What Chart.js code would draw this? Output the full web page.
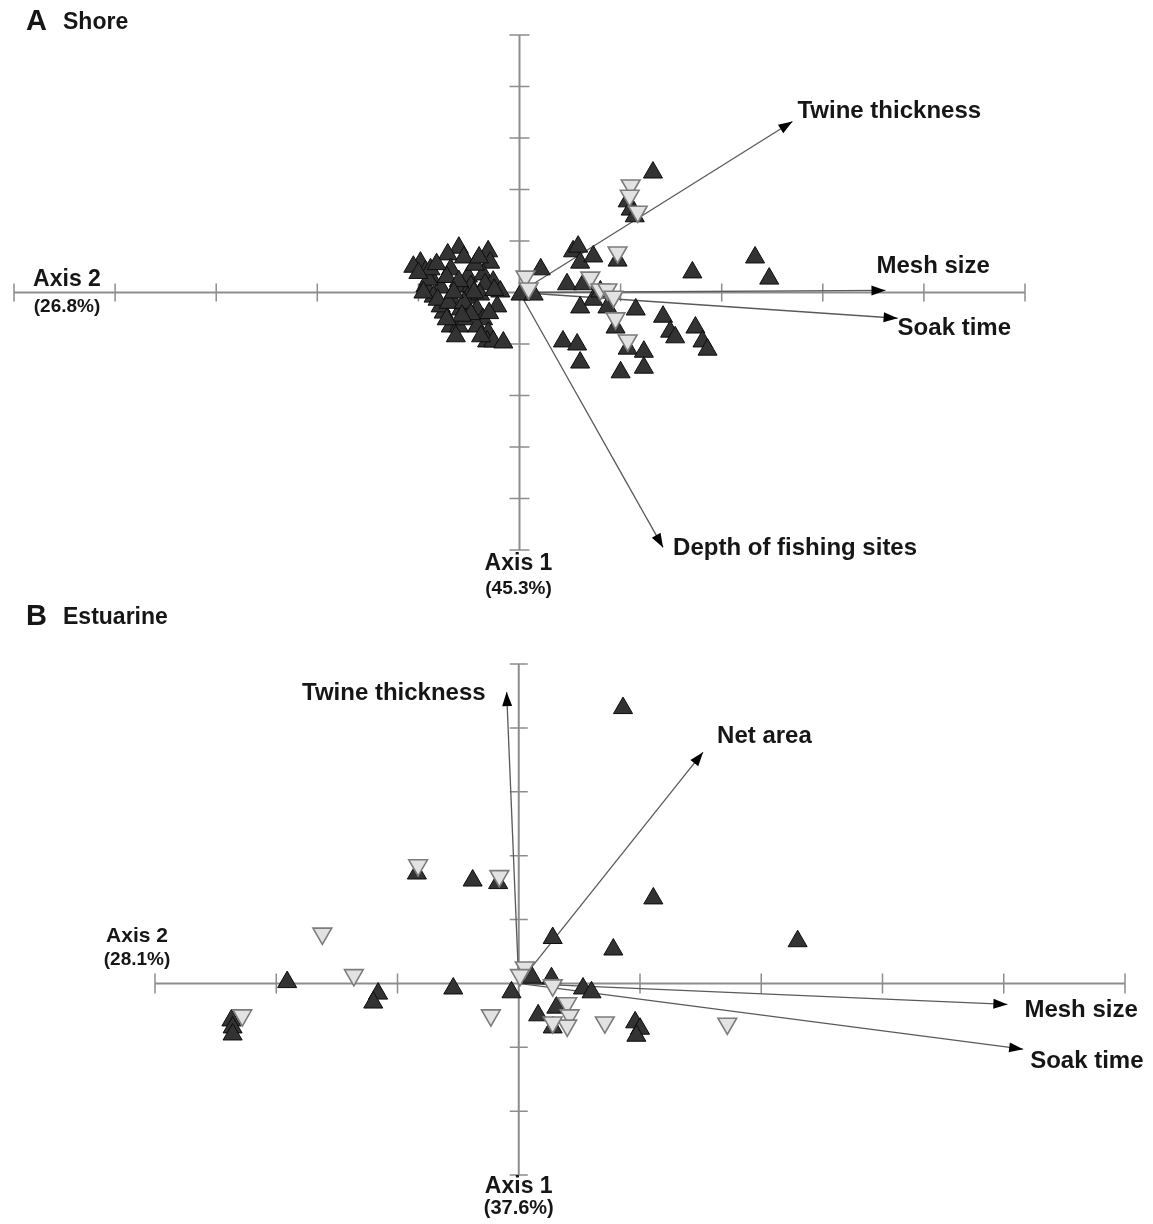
<!DOCTYPE html>
<html><head><meta charset="utf-8">
<script src="https://cdn.jsdelivr.net/npm/chart.js@4/dist/chart.umd.min.js"></script>
<style>
html,body{margin:0;padding:0;background:#fff;}
#wrap{position:relative;width:1153px;height:1224px;overflow:hidden;}
canvas{position:absolute;left:0;}
#cA{top:0;} #cB{top:600px;}
</style></head><body>
<div id="wrap"><canvas id="cA" width="1153" height="600"></canvas><canvas id="cB" width="1153" height="624"></canvas></div>
<script>
// ---------- DATA ----------
// Panel A (Shore): sample scores [axis1, axis2]
const shoreUp = [
[-0.98,0.58],[-1.05,0.50],[-0.93,0.41],[-0.88,0.31],[-0.60,0.87],[-0.71,0.74],[-0.55,0.68],[-0.31,0.80],[-0.29,0.58],[-0.68,0.45],
[-0.51,0.31],[-0.36,0.35],[-0.26,0.21],[-0.93,0.12],[-0.78,0.10],[-0.61,0.12],[-0.48,0.12],[-0.34,0.16],[-0.85,-0.08],[-0.68,-0.10],
[-0.51,-0.10],[-0.39,-0.04],[-0.22,-0.27],[-0.75,-0.39],[-0.78,-0.27],[-0.58,-0.33],[-0.42,-0.33],[-0.36,-0.52],[-0.68,-0.66],[-0.60,-0.66],
[-0.53,-0.52],[-0.42,-0.66],[-0.31,-0.78],[-0.32,-0.95],[-0.26,-0.95],[-0.16,-0.97],[-0.63,-0.85],[-0.81,-0.14],[-0.44,0.54],[-0.19,0.02],
[-0.90,0.25],[-0.72,0.30],[-0.60,0.22],[-0.45,0.00],[-0.70,-0.20],[-0.55,-0.20],[-0.48,-0.42],[-0.30,-0.40],[-0.88,0.45],[-0.65,0.00],
[-1.00,0.38],[-0.82,0.55],[-0.40,0.68],[-0.25,0.05],[-0.57,-0.45],[-0.72,-0.52],[-0.38,-0.85],[-0.95,0.00],
[0.01,-0.04],[0.14,-0.04],[0.21,0.45],
[0.53,0.80],[0.58,0.89],[0.60,0.58],[0.73,0.70],[0.97,0.62],[0.47,0.16],[0.63,0.16],[0.73,-0.14],[0.60,-0.29],[0.87,-0.29],
[1.15,-0.33],[0.95,-0.68],[1.42,-0.47],[1.49,-0.76],[1.54,-0.87],[1.74,-0.68],[1.81,-0.95],[1.86,-1.11],[1.07,-1.09],[1.23,-1.15],
[0.43,-0.95],[0.57,-1.01],[0.60,-1.36],[1.00,-1.55],[1.23,-1.46],[1.71,0.39],[2.33,0.68],[2.47,0.27],[1.32,2.33],[1.07,1.77],
[1.10,1.61],[1.14,1.48],[0.80,0.02]
];
const shoreDown = [
[0.06,0.31],[0.09,0.08],[0.97,0.78],[0.70,0.29],[0.80,0.06],[0.87,0.06],[0.93,-0.08],[0.95,-0.50],[1.07,-0.93],[1.10,2.08],[1.09,1.88],[1.17,1.57]
];
const shoreVectorNames = ['Twine thickness','Mesh size','Soak time','Depth of fishing sites'];
const shoreVectorX = [2.70, 3.62, 3.74, 1.42];
const shoreVectorY = [3.32, 0.04, -0.50, -4.95];
const shoreAxis1 = ['Axis 1','(45.3%)'];
const shoreAxis2 = ['Axis 2','(26.8%)'];

// Panel B (Estuarine)
const estUp = [
[0.86,4.31],[1.11,1.33],[0.28,0.71],[0.78,0.53],[2.30,0.66],[-0.84,1.72],[-0.38,1.61],[-0.17,1.57],[-1.91,0.02],[-1.16,-0.16],
[-1.20,-0.30],[-0.54,-0.08],[-0.06,-0.14],[0.11,0.09],[0.27,0.08],[0.53,-0.08],[0.60,-0.14],[0.31,-0.38],[0.16,-0.50],[0.28,-0.69],
[0.96,-0.61],[1.00,-0.71],[0.97,-0.82],[-2.37,-0.58],[-2.36,-0.69],[-2.36,-0.80]
];
const estDown = [
[-0.83,1.85],[-0.16,1.68],[-1.62,0.78],[-1.36,0.13],[-2.28,-0.50],[-0.23,-0.50],[0.05,0.25],[0.01,0.13],[0.28,-0.03],[0.40,-0.31],
[0.42,-0.50],[0.40,-0.66],[0.28,-0.61],[0.71,-0.61],[1.72,-0.63]
];
const estVectorNames = ['Twine thickness','Net area','Mesh size','Soak time'];
const estVectorX = [-0.10, 1.52, 4.03, 4.16];
const estVectorY = [4.56, 3.62, -0.33, -1.03];
const estAxis1 = ['Axis 1','(37.6%)'];
const estAxis2 = ['Axis 2','(28.1%)'];

// ---------- STYLE ----------
const FONT = '"Liberation Sans", Arial, Helvetica, sans-serif';
const TXT = '#161616';

const biplot = {
  id: 'biplot',
  beforeDatasetsDraw(chart, args, o) {
    const {ctx, scales: {x, y}} = chart;
    const x0 = x.getPixelForValue(0), y0 = y.getPixelForValue(0);
    ctx.save();
    ctx.strokeStyle = '#8d8d8d';
    ctx.lineWidth = 2;
    ctx.beginPath();
    ctx.moveTo(x.getPixelForValue(x.min), y0); ctx.lineTo(x.getPixelForValue(x.max), y0);
    ctx.moveTo(x0, y.getPixelForValue(y.min)); ctx.lineTo(x0, y.getPixelForValue(y.max));
    ctx.stroke();
    ctx.lineWidth = 1.5;
    ctx.beginPath();
    for (let v = x.min; v <= x.max; v++) {
      if (v === 0) continue;
      const p = x.getPixelForValue(v);
      ctx.moveTo(p, y0 - o.tickX); ctx.lineTo(p, y0 + o.tickX);
    }
    for (let v = y.min; v <= y.max; v++) {
      if (v === 0) continue;
      const p = y.getPixelForValue(v);
      ctx.moveTo(x0 - o.tickY, p); ctx.lineTo(x0 + o.tickY, p);
    }
    ctx.stroke();
    ctx.restore();
  },
  afterDatasetsDraw(chart, args, o) {
    const {ctx, scales: {x, y}} = chart;
    ctx.save();
    ctx.fillStyle = TXT;
    ctx.textBaseline = 'middle';
    chart.data.datasets.forEach((ds, i) => {
      if (!ds.isVector) return;
      const meta = chart.getDatasetMeta(i);
      const a = meta.data[0], b = meta.data[1];
      const ang = Math.atan2(b.y - a.y, b.x - a.x);
      const L = 14, W = 5;
      ctx.fillStyle = '#000';
      ctx.beginPath();
      ctx.moveTo(b.x, b.y);
      ctx.lineTo(b.x - L * Math.cos(ang) + W * Math.sin(ang), b.y - L * Math.sin(ang) - W * Math.cos(ang));
      ctx.lineTo(b.x - L * Math.cos(ang) - W * Math.sin(ang), b.y - L * Math.sin(ang) + W * Math.cos(ang));
      ctx.closePath();
      ctx.fill();
      const off = o.labelOffsets[ds.label];
      ctx.fillStyle = TXT;
      ctx.font = 'bold ' + o.labelSize + 'px ' + FONT;
      ctx.textAlign = off.align || 'left';
      ctx.fillText(ds.label, b.x + off.dx, b.y + off.dy);
    });
    // axis labels
    const x0 = x.getPixelForValue(0), y0 = y.getPixelForValue(0);
    const xl = x.getPixelForValue(x.min), yb = y.getPixelForValue(y.min);
    ctx.textAlign = 'center';
    const A2 = o.axis2, A1 = o.axis1;
    ctx.font = 'bold ' + A2.size1 + 'px ' + FONT;
    ctx.fillText(A2.text[0], xl + A2.dx, y0 + A2.dy1);
    ctx.font = 'bold ' + A2.size2 + 'px ' + FONT;
    ctx.fillText(A2.text[1], xl + A2.dx, y0 + A2.dy2);
    ctx.font = 'bold ' + A1.size1 + 'px ' + FONT;
    ctx.fillText(A1.text[0], x0 + A1.dx, yb + A1.dy1);
    ctx.font = 'bold ' + A1.size2 + 'px ' + FONT;
    ctx.fillText(A1.text[1], x0 + A1.dx, yb + A1.dy2);
    // panel title
    ctx.textAlign = 'left';
    ctx.font = 'bold 29px ' + FONT;
    ctx.fillText(o.title[0], 26, o.titleY);
    ctx.font = 'bold 23px ' + FONT;
    ctx.fillText(o.title[1], 63, o.titleY + 1);
    ctx.restore();
  }
};

function toPts(arr) { return arr.map(p => ({x: p[0], y: p[1]})); }

function makeChart(id, cfg) {
  const datasets = [];
  cfg.vNames.forEach((n, i) => {
    datasets.push({
      label: n, isVector: true, showLine: true,
      data: [{x: 0, y: 0}, {x: cfg.vX[i], y: cfg.vY[i]}],
      borderColor: '#5a5a5a', borderWidth: 1.3, pointRadius: 0, order: 5, clip: false
    });
  });
  datasets.push({
    label: 'group1', data: toPts(cfg.up), pointStyle: 'triangle', pointRadius: 11,
    backgroundColor: '#333333', borderColor: '#0d0d0d', borderWidth: 1, order: 2, clip: false
  });
  datasets.push({
    label: 'group2', data: toPts(cfg.down), pointStyle: 'triangle', rotation: 180, pointRadius: 10.8,
    backgroundColor: '#e2e2e2', borderColor: '#7c7c7c', borderWidth: 1.6, order: 1, clip: false
  });
  return new Chart(document.getElementById(id), {
    type: 'scatter',
    data: {datasets},
    options: {
      responsive: false, animation: false, devicePixelRatio: 1,
      layout: {padding: cfg.padding},
      scales: {
        x: {type: 'linear', min: cfg.xr[0], max: cfg.xr[1], display: false},
        y: {type: 'linear', min: cfg.yr[0], max: cfg.yr[1], display: false}
      },
      plugins: {
        legend: {display: false}, tooltip: {enabled: false},
        biplot: cfg.plot
      }
    },
    plugins: [biplot]
  });
}

makeChart('cA', {
  up: shoreUp, down: shoreDown, vNames: shoreVectorNames, vX: shoreVectorX, vY: shoreVectorY,
  xr: [-5, 5], yr: [-5, 5],
  padding: {left: 14, right: 128, top: 35, bottom: 50},
  plot: {
    tickX: 9, tickY: 10, labelSize: 24, title: ['A', 'Shore'], titleY: 22,
    labelOffsets: {
      'Twine thickness': {dx: 5, dy: -10},
      'Mesh size': {dx: -9, dy: -24},
      'Soak time': {dx: 0, dy: 10},
      'Depth of fishing sites': {dx: 10, dy: 1}
    },
    axis2: {text: shoreAxis2, dx: 53, dy1: -13, dy2: 14, size1: 23, size2: 19},
    axis1: {text: shoreAxis1, dx: -1, dy1: 14, dy2: 39, size1: 23, size2: 19}
  }
});

makeChart('cB', {
  up: estUp, down: estDown, vNames: estVectorNames, vX: estVectorX, vY: estVectorY,
  xr: [-3, 5], yr: [-3, 5],
  padding: {left: 155, right: 28, top: 64, bottom: 49},
  plot: {
    tickX: 10, tickY: 9, labelSize: 24, title: ['B', 'Estuarine'], titleY: 17,
    labelOffsets: {
      'Twine thickness': {dx: -21, dy: 1, align: 'right'},
      'Net area': {dx: 14, dy: -16},
      'Mesh size': {dx: 17, dy: 6},
      'Soak time': {dx: 7, dy: 12}
    },
    axis2: {text: estAxis2, dx: -18, dy1: -47, dy2: -24, size1: 21, size2: 19},
    axis1: {text: estAxis1, dx: 0, dy1: 12, dy2: 33, size1: 23, size2: 20}
  }
});
</script>
</body></html>
